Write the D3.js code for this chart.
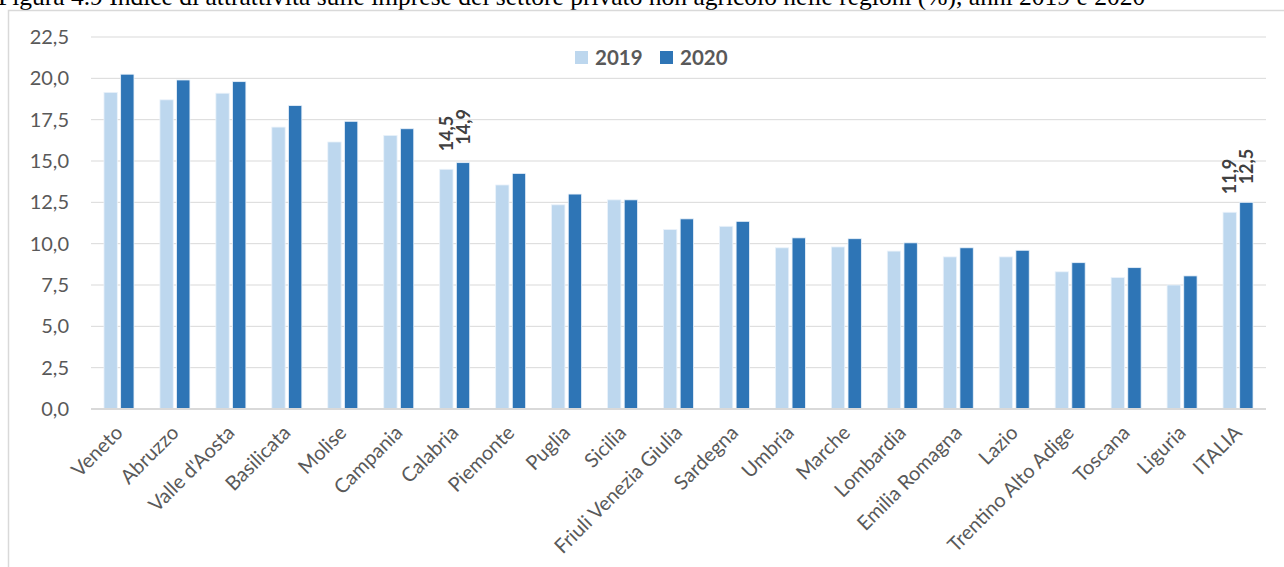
<!DOCTYPE html>
<html>
<head>
<meta charset="utf-8">
<script src="https://cdn.jsdelivr.net/npm/d3@7"></script>
<style>
  html, body { margin: 0; padding: 0; background: #fff; }
  svg { display: block; }
</style>
</head>
<body>
<svg id="chart" width="1284" height="567"></svg>
<script>
// Regions, ordered as plotted, with the national total last
const regions = ["Veneto", "Abruzzo", "Valle d'Aosta", "Basilicata", "Molise", "Campania",
  "Calabria", "Piemonte", "Puglia", "Sicilia", "Friuli Venezia Giulia", "Sardegna",
  "Umbria", "Marche", "Lombardia", "Emilia Romagna", "Lazio", "Trentino Alto Adige",
  "Toscana", "Liguria", "ITALIA"];

const years = ["2019", "2020"];

// Attractiveness index (%), one value per region
const values2019 = [19.15, 18.7, 19.1, 17.05, 16.15, 16.55, 14.5, 13.55, 12.35, 12.65,
  10.85, 11.05, 9.75, 9.8, 9.55, 9.2, 9.2, 8.3, 7.95, 7.5, 11.9];
const values2020 = [20.25, 19.9, 19.8, 18.35, 17.4, 16.95, 14.9, 14.25, 13.0, 12.65,
  11.5, 11.35, 10.35, 10.3, 10.05, 9.75, 9.6, 8.85, 8.55, 8.05, 12.5];

// Regions whose bars carry a value label
const labelledRegions = ["Calabria", "ITALIA"];

const yTicks = [0, 2.5, 5, 7.5, 10, 12.5, 15, 17.5, 20, 22.5];

const colors = { "2019": "#BDD7EE", "2020": "#2E75B6" };
const textColor = "#595959";
const font = "Lato, 'Open Sans', sans-serif";

const svg = d3.select("#chart");

// Title line, partly above the top edge of the page
svg.append("text")
  .attr("x", -2).attr("y", 5)
  .attr("font-family", "'Liberation Serif', 'Times New Roman', serif")
  .attr("font-size", 25.5)
  .attr("fill", "#000")
  .text("Figura 4.9 Indice di attrattività sulle imprese del settore privato non agricolo nelle regioni (%), anni 2019 e 2020");

// Chart frame
svg.append("rect")
  .attr("x", 8.5).attr("y", 10.5)
  .attr("width", 1290).attr("height", 600)
  .attr("fill", "#fff")
  .attr("stroke", "#d9d9d9").attr("stroke-width", 1.5);

const plot = { left: 91, right: 1266, top: 37, bottom: 409 };

const x = d3.scaleBand().domain(regions).range([plot.left, plot.right]).paddingInner(0);
const groupWidth = 30;
const xs = d3.scaleBand().domain(years).range([0, groupWidth]).paddingInner(0.2);
const y = d3.scaleLinear().domain([0, 22.5]).range([plot.bottom, plot.top]);

const itLocale = d3.formatLocale({ decimal: ",", thousands: ".", grouping: [3], currency: ["€", ""] });
const fmt = itLocale.format(".1f");

// Horizontal gridlines
svg.append("g")
  .selectAll("line")
  .data(yTicks.filter(t => t > 0))
  .join("line")
  .attr("x1", plot.left).attr("x2", plot.right)
  .attr("y1", d => y(d)).attr("y2", d => y(d))
  .attr("stroke", "#d9d9d9").attr("stroke-width", 1);

// Y axis labels
const yAxis = d3.axisLeft(y).tickValues(yTicks).tickFormat(fmt).tickSize(0).tickPadding(0);
const yg = svg.append("g").attr("transform", `translate(${69},0)`).call(yAxis);
yg.select(".domain").remove();
yg.selectAll("text")
  .attr("font-family", font).attr("font-size", 20).attr("fill", textColor);

// Bars
const rows = regions.map((r, i) => ({ region: r, "2019": values2019[i], "2020": values2020[i] }));
const groups = svg.append("g")
  .selectAll("g")
  .data(rows)
  .join("g")
  .attr("transform", d => `translate(${x(d.region) + (x.bandwidth() - groupWidth) / 2},0)`);

groups.selectAll("rect")
  .data(d => years.map(yr => ({ region: d.region, year: yr, value: d[yr] })))
  .join("rect")
  .attr("x", d => xs(d.year))
  .attr("width", xs.bandwidth())
  .attr("y", d => y(d.value))
  .attr("height", d => y(0) - y(d.value))
  .attr("fill", d => colors[d.year])
  .attr("stroke", "#eaf2fa").attr("stroke-width", 0.8);

// Value labels, rotated, above selected bars
groups.filter(d => labelledRegions.includes(d.region))
  .selectAll("text")
  .data(d => years.map(yr => ({ region: d.region, year: yr, value: d[yr] })))
  .join("text")
  .attr("transform", d => `translate(${xs(d.year) + xs.bandwidth() / 2 + 6.5},${y(d.value) - 18}) rotate(-90)`)
  .attr("text-anchor", "start")
  .attr("font-family", font).attr("font-size", 18).attr("font-weight", "bold")
  .attr("fill", "#404040")
  .text(d => fmt(d.value));

// Baseline axis
svg.append("line")
  .attr("x1", plot.left).attr("x2", plot.right)
  .attr("y1", y(0)).attr("y2", y(0))
  .attr("stroke", "#d9d9d9").attr("stroke-width", 2);

// X axis labels, slanted
const xAxis = d3.axisBottom(x).tickSize(0).tickPadding(0);
const xg = svg.append("g").attr("transform", `translate(0,${plot.bottom})`).call(xAxis);
xg.select(".domain").remove();
xg.selectAll("text")
  .attr("font-family", font).attr("font-size", 20).attr("fill", textColor)
  .attr("text-anchor", "end")
  .attr("dy", null).attr("y", null)
  .attr("transform", "translate(5,25) rotate(-45)");

// Legend
const legend = svg.append("g").attr("transform", "translate(575,51)");
const legendItems = legend.selectAll("g")
  .data(years)
  .join("g")
  .attr("transform", (d, i) => `translate(${i * 85},0)`);
legendItems.append("rect")
  .attr("width", 13).attr("height", 13)
  .attr("fill", d => colors[d]);
legendItems.append("text")
  .attr("x", 20).attr("y", 14)
  .attr("font-family", font).attr("font-size", 20.5).attr("font-weight", "bold")
  .attr("fill", textColor)
  .text(d => d);
</script>
</body>
</html>
